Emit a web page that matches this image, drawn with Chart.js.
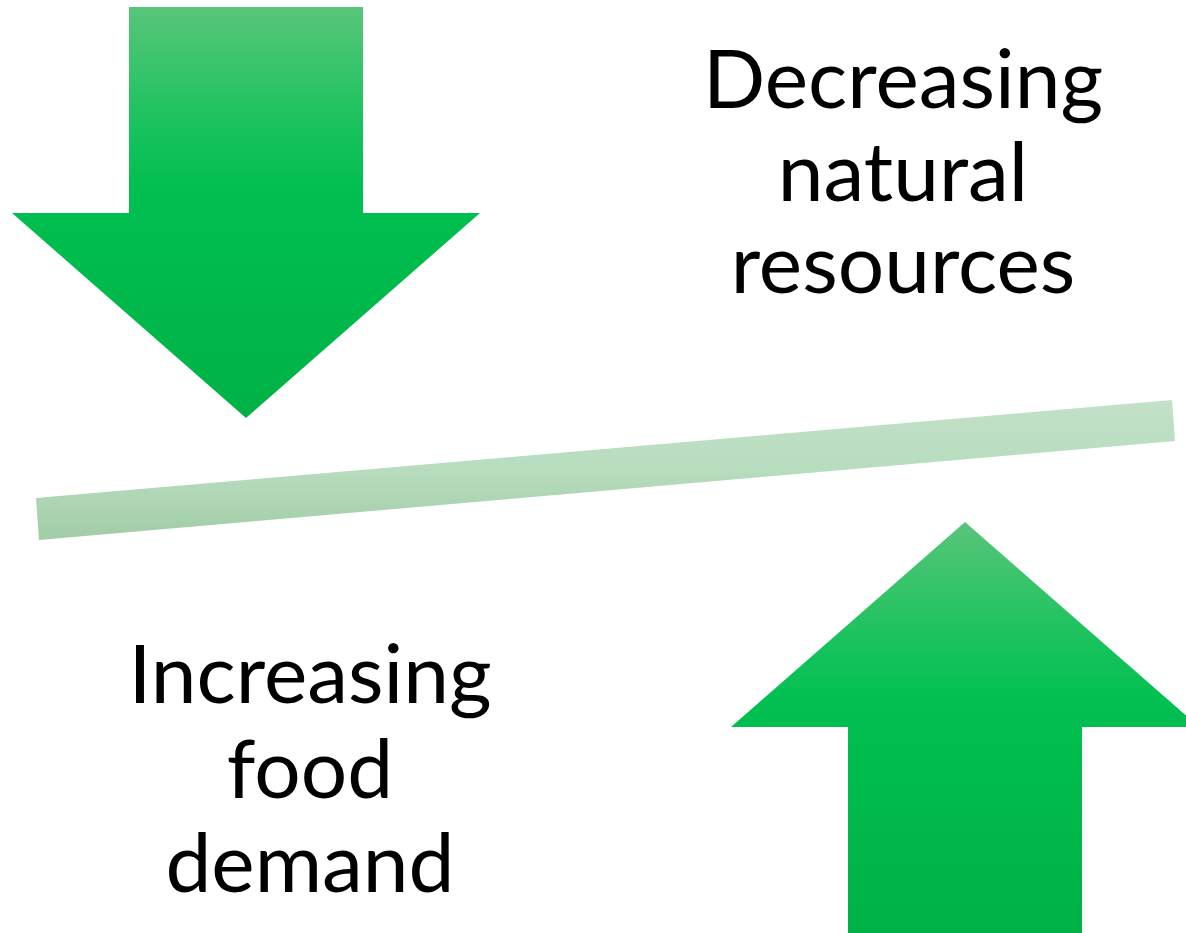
<!DOCTYPE html>
<html lang="en">
<head>
    <meta charset="UTF-8">
    <title>Decreasing natural resources / Increasing food demand</title>
    <script src="https://cdn.jsdelivr.net/npm/chart.js"></script>
    <style>
        html, body { margin: 0; padding: 0; background: #fff; }
        .wrap { position: relative; width: 1186px; height: 933px; overflow: hidden; }
        .label {
            position: absolute;
            font-family: Lato, "Open Sans", sans-serif;
            font-size: 82px;
            color: #000;
            text-align: center;
            white-space: nowrap;
        }
    </style>
</head>
<body>
    <div class="wrap">
        <canvas id="diagram" width="1186" height="933"></canvas>
        <div class="label" id="topLabel" style="left:703px; top:30px; width:400px; line-height:92.5px;">Decreasing<br>natural<br>resources</div>
        <div class="label" id="bottomLabel" style="left:110px; top:624px; width:400px; line-height:94.5px;">Increasing<br>food<br>demand</div>
    </div>

    <script>
        // outline points of each shape, in page pixels (x right, y down)
        const downArrowX = [129, 363, 363, 480, 246, 12, 129, 129];
        const downArrowY = [7, 7, 213, 213, 418, 213, 213, 7];

        const upArrowX = [965, 1199, 1082, 1082, 848, 848, 731, 965];
        const upArrowY = [522, 727, 727, 933, 933, 727, 727, 522];

        const beamX = [36, 1172, 1175, 39, 36];
        const beamY = [498, 400, 441, 540, 498];

        function toPoints(xs, ys) {
            return xs.map((x, i) => ({ x: x, y: ys[i] }));
        }

        // vertical gradient between two y values, built from the y scale
        function vGradient(y0, y1, stops, fallback) {
            return function (context) {
                const chart = context.chart;
                const yScale = chart.scales.y;
                if (!yScale || !chart.chartArea) return fallback;
                const g = chart.ctx.createLinearGradient(0, yScale.getPixelForValue(y0), 0, yScale.getPixelForValue(y1));
                stops.forEach(s => g.addColorStop(s[0], s[1]));
                return g;
            };
        }

        const arrowStops = [[0, '#58c57a'], [0.3, '#17c25c'], [0.45, '#00bf50'], [1, '#00b245']];

        const ctx = document.getElementById('diagram').getContext('2d');
        const diagram = new Chart(ctx, {
            type: 'scatter',
            data: {
                datasets: [
                    {
                        label: 'Decreasing natural resources',
                        data: toPoints(downArrowX, downArrowY),
                        showLine: true,
                        fill: 'shape',
                        borderWidth: 0,
                        pointRadius: 0,
                        backgroundColor: vGradient(7, 418, arrowStops, '#00bf50')
                    },
                    {
                        label: 'Increasing food demand',
                        data: toPoints(upArrowX, upArrowY),
                        showLine: true,
                        fill: 'shape',
                        borderWidth: 0,
                        pointRadius: 0,
                        backgroundColor: vGradient(522, 933, arrowStops, '#00bf50')
                    },
                    {
                        label: 'Balance',
                        data: toPoints(beamX, beamY),
                        showLine: true,
                        fill: 'shape',
                        borderWidth: 0,
                        pointRadius: 0,
                        backgroundColor: vGradient(400, 540, [[0, '#c3e1c8'], [0.5, '#b7dcbe'], [1, '#a1cca6']], '#bcdec2')
                    }
                ]
            },
            options: {
                responsive: false,
                animation: false,
                events: [],
                layout: { padding: 0 },
                plugins: {
                    legend: { display: false },
                    tooltip: { enabled: false }
                },
                scales: {
                    x: { type: 'linear', min: 0, max: 1186, display: false },
                    y: { type: 'linear', min: 0, max: 933, reverse: true, display: false }
                }
            }
        });
    </script>
</body>
</html>
